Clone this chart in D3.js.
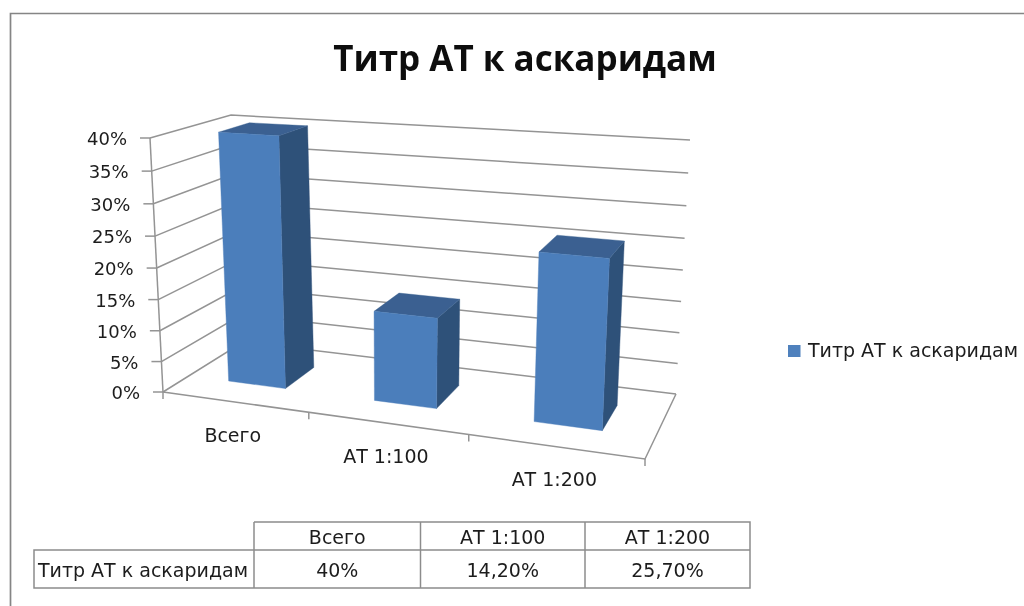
<!DOCTYPE html>
<html><head><meta charset="utf-8">
<script src="https://cdn.jsdelivr.net/npm/d3@7"></script>
<style>html,body{margin:0;padding:0;background:#fff}svg{display:block}text{fill:#1c1c1c;font-family:"DejaVu Sans",sans-serif}</style>
</head><body><svg id="c" width="1024" height="606"></svg>
<script>
const chartTitle = "Титр АТ к аскаридам";
const seriesName = "Титр АТ к аскаридам";
const categories = ["Всего", "АТ 1:100", "АТ 1:200"];
const seriesValues = [40, 14.2, 25.7];
const valueLabels = ["40%", "14,20%", "25,70%"];
const axisTicks = [0, 5, 10, 15, 20, 25, 30, 35, 40];

// projection frame of the 3D box: floor corners (front-left, back-left, back-right, front-right)
const floorQuad = [[163,392],[243,342],[676,394],[645,459]];
// full-height rise and sideways lean at the same corners
const riseAt = [254,227,254,285];
const leanAt = [-13,-12,14,14];
function quadMap(q){
  const [[x0,y0],[x1,y1],[x2,y2],[x3,y3]] = q;
  const dx1=x1-x2, dx2=x3-x2, sx=x0-x1+x2-x3, dy1=y1-y2, dy2=y3-y2, sy=y0-y1+y2-y3;
  const den=dx1*dy2-dx2*dy1;
  const g=(sx*dy2-dx2*sy)/den, h=(dx1*sy-sx*dy1)/den;
  const a=x1-x0+g*x1, b=x3-x0+h*x3, c=x0, d=y1-y0+g*y1, e=y3-y0+h*y3, f=y0;
  return (s,t)=>{const k=g*s+h*t+1;return [(a*s+b*t+c)/k,(d*s+e*t+f)/k];};
}
const floorAt = quadMap(floorQuad);
const bilinear = (c,s,t)=> (1-t)*((1-s)*c[0]+s*c[1]) + t*((1-s)*c[3]+s*c[2]);
const persp = 0.953;
const heightScale = d3.scaleLinear().domain([0,40]).range([0,1]);
function project(u,v,val){
  const w0=heightScale(val), w=w0*persp/(1+(persp-1)*w0);
  const p=floorAt(v,u);
  return [p[0]+bilinear(leanAt,v,u)*w, p[1]-bilinear(riseAt,v,u)*w];
}
const band = d3.scaleBand().domain(categories).range([-0.004,1]).paddingInner(0.6).paddingOuter(0.3);
const depthFront = 0.3, depthBack = 0.7;

const svg = d3.select("#c");
const soft = svg.append("defs").append("filter").attr("id","soft");
soft.append("feGaussianBlur").attr("stdDeviation",0.45);
const root = svg.append("g").attr("filter","url(#soft)");
const line = d3.line();
const GRID = "#949494";
const FS = "19px";

// chart frame
root.append("path").attr("d","M10.5,606V13.5H1024").attr("fill","none").attr("stroke","#858585").attr("stroke-width",1.7);

// title
root.append("text").attr("x",525).attr("y",71).attr("text-anchor","middle")
  .style("font-family","'Open Sans',sans-serif").style("font-weight",700).style("font-size","35px").style("fill","#111").text(chartTitle);

// walls
const wall = root.append("g").attr("fill","none").attr("stroke",GRID).attr("stroke-width",1.5);
axisTicks.forEach(t=>{
  wall.append("path").attr("d",line([project(0,0,t),project(0,1,t),project(1,1,t)]));
  const p=project(0,0,t);
  wall.append("path").attr("d",line([[p[0]-10,p[1]],p]));
});
wall.append("path").attr("d",line([project(0,0,0),project(0,0,40)]));
wall.append("path").attr("d",line([project(0,0,0),project(1,0,0),project(1,1,0)]));
[0,1,2,3].forEach(i=>{
  const p=project(i/3,0,0);
  wall.append("path").attr("d",line([p,[p[0],p[1]+7]]));
});

// y tick labels
root.append("g").selectAll("text").data(axisTicks).join("text")
  .attr("x",t=>project(0,0,t)[0]-23).attr("y",t=>project(0,0,t)[1]+7)
  .attr("text-anchor","end").style("font-size","18px").text(t=>t+"%");

// category labels
root.append("g").selectAll("text").data(categories).join("text")
  .attr("x",c=>project(band(c)+band.bandwidth()/2,0,0)[0])
  .attr("y",c=>project(band(c)+band.bandwidth()/2,0,0)[1]+40)
  .attr("text-anchor","middle").style("font-size",FS).text(c=>c);

// bars
const bars = root.append("g").selectAll("g").data(categories.map((c,i)=>({c,v:seriesValues[i]}))).join("g");
function face(sel,pts,fill){ sel.append("path").attr("d",d=>line(pts(d))+"Z").attr("fill",fill).attr("stroke",fill).attr("stroke-width",0.4); }
const u0=d=>band(d.c), u1=d=>band(d.c)+band.bandwidth();
face(bars,d=>[project(u1(d),depthFront,0),project(u1(d),depthBack,0),project(u1(d),depthBack,d.v),project(u1(d),depthFront,d.v)],"#2f5179");
face(bars,d=>[project(u0(d),depthFront,d.v),project(u0(d),depthBack,d.v),project(u1(d),depthBack,d.v),project(u1(d),depthFront,d.v)],"#3a6191");
face(bars,d=>[project(u0(d),depthFront,0),project(u1(d),depthFront,0),project(u1(d),depthFront,d.v),project(u0(d),depthFront,d.v)],"#4c7ebb");

// legend
root.append("rect").attr("x",788).attr("y",345).attr("width",12.5).attr("height",12).attr("fill","#4f81bd");
root.append("text").attr("x",808).attr("y",356.5).style("font-size",FS).text(seriesName);

// data table
const colX = [254,420.5,585,750], rowY = [522,550,588], headX = 34;
const tbl = root.append("g").attr("fill","none").attr("stroke","#8c8c8c").attr("stroke-width",1.5);
tbl.append("path").attr("d",`M${colX[0]},${rowY[0]}H${colX[3]}V${rowY[2]}H${headX}V${rowY[1]}H${colX[3]}`);
colX.slice(0,3).forEach(x=>tbl.append("path").attr("d",`M${x},${rowY[0]}V${rowY[2]}`));
root.append("text").attr("x",38).attr("y",576.5).style("font-size",FS).text(seriesName);
categories.forEach((c,i)=>{
  const cx=(colX[i]+colX[i+1])/2;
  root.append("text").attr("x",cx).attr("y",544).attr("text-anchor","middle").style("font-size",FS).text(c);
  root.append("text").attr("x",cx).attr("y",576.5).attr("text-anchor","middle").style("font-size",FS).text(valueLabels[i]);
});
</script></body></html>
